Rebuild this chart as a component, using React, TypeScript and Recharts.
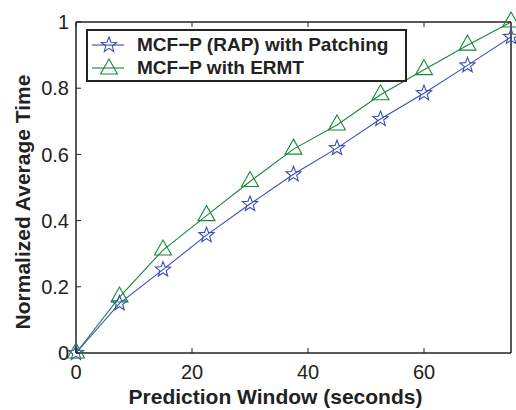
import React from 'react';
import { LineChart, Line, XAxis, YAxis } from 'recharts';

const windowSec = [0, 7.5, 15, 22.5, 30, 37.5, 45, 52.5, 60, 67.5, 75];
const rapPatching = [0, 0.15, 0.252, 0.356, 0.45, 0.54, 0.619, 0.707, 0.785, 0.869, 0.955];
const ermt = [0, 0.169, 0.311, 0.415, 0.518, 0.616, 0.689, 0.78, 0.856, 0.93, 1.0];
const xTicks = [0, 20, 40, 60];
const yTicks = [0, 0.2, 0.4, 0.6, 0.8, 1];
const yTickLabels = ['0', '0.2', '0.4', '0.6', '0.8', '1'];
const seriesNames = ['MCF\u2212P (RAP) with Patching', 'MCF\u2212P with ERMT'];
const xTitle = 'Prediction Window (seconds)';
const yTitle = 'Normalized Average Time';

const BLUE = '#3a4db5';
const GREEN = '#16883a';
const AXIS = '#222';
const FONT = '"Liberation Sans", Arial, Helvetica, sans-serif';

const data = windowSec.map((x, i) => ({ x, rap: rapPatching[i], ermt: ermt[i] }));

function starPath(cx: number, cy: number, R: number, r: number) {
  const pts: string[] = [];
  for (let i = 0; i < 10; i++) {
    const rad = i % 2 === 0 ? R : r;
    const a = -Math.PI / 2 + (i * Math.PI) / 5;
    pts.push(`${(cx + rad * Math.cos(a)).toFixed(2)},${(cy + rad * Math.sin(a)).toFixed(2)}`);
  }
  return 'M' + pts.join('L') + 'Z';
}

function triPath(cx: number, cy: number) {
  return `M${cx},${cy - 10}L${cx + 8.5},${cy + 5}L${cx - 8.5},${cy + 5}Z`;
}

const StarDot = (p: any) => {
  if (p.cx == null || p.cy == null) return <g key={p.index} />;
  return <path key={`s${p.index}`} d={starPath(p.cx, p.cy, 8, 3.4)} fill="none" stroke={BLUE} strokeWidth={1.1} />;
};
const TriDot = (p: any) => {
  if (p.cx == null || p.cy == null) return <g key={p.index} />;
  return <path key={`t${p.index}`} d={triPath(p.cx, p.cy)} fill="none" stroke={GREEN} strokeWidth={1.1} />;
};

export default function App() {
  return (
    <div style={{ position: 'absolute', left: 0, top: 0, width: 516, height: 410, background: '#fff', fontFamily: FONT }}>
      <LineChart
        width={516}
        height={410}
        data={data}
        margin={{ top: 21, right: 4, left: 0, bottom: 0 }}
      >
        <XAxis
          dataKey="x"
          type="number"
          domain={[0, 75]}
          ticks={xTicks}
          interval={0}
          height={57}
          tickSize={-5}
          tickMargin={17}
          axisLine={{ stroke: AXIS, strokeWidth: 1.5 }}
          tickLine={{ stroke: AXIS }}
          tick={{ fill: AXIS, fontSize: 20, fontFamily: FONT }}
        />
        <XAxis
          xAxisId="top"
          orientation="top"
          dataKey="x"
          type="number"
          domain={[0, 75]}
          ticks={xTicks}
          interval={0}
          height={1}
          tickSize={-5}
          tickFormatter={() => ''}
          axisLine={{ stroke: AXIS, strokeWidth: 1.5 }}
          tickLine={{ stroke: AXIS }}
        />
        <YAxis
          type="number"
          domain={[0, 1]}
          ticks={yTicks}
          interval={0}
          width={76}
          tickSize={-5}
          tickMargin={12}
          tickFormatter={(v: number) => yTickLabels[yTicks.indexOf(v)] ?? String(v)}
          axisLine={{ stroke: AXIS, strokeWidth: 1.5 }}
          tickLine={{ stroke: AXIS }}
          tick={{ fill: AXIS, fontSize: 20, fontFamily: FONT }}
        />
        <YAxis
          yAxisId="right"
          orientation="right"
          type="number"
          domain={[0, 1]}
          ticks={yTicks}
          interval={0}
          width={1}
          tickSize={-5}
          tickFormatter={() => ''}
          axisLine={{ stroke: AXIS, strokeWidth: 1.5 }}
          tickLine={{ stroke: AXIS }}
        />
        <Line
          dataKey="rap"
          name={seriesNames[0]}
          stroke={BLUE}
          strokeWidth={1.1}
          dot={StarDot}
          activeDot={false}
          isAnimationActive={false}
        />
        <Line
          dataKey="ermt"
          name={seriesNames[1]}
          stroke={GREEN}
          strokeWidth={1.1}
          dot={TriDot}
          activeDot={false}
          isAnimationActive={false}
        />
      </LineChart>

      {/* Legend */}
      <div
        style={{
          position: 'absolute',
          left: 86,
          top: 29,
          width: 317,
          height: 49,
          border: `2px solid ${AXIS}`,
          background: '#fff',
        }}
      >
        {[0, 1].map((i) => (
          <div key={i} style={{ position: 'absolute', left: 0, top: i === 0 ? 3 : 26, height: 22, width: 317 }}>
            <svg width={40} height={22} style={{ position: 'absolute', left: 2, top: 0 }}>
              <line x1={2} x2={34} y1={11} y2={11} stroke={i === 0 ? BLUE : GREEN} strokeWidth={1.1} />
              {i === 0 ? (
                <path d={starPath(19, 11, 8, 3.4)} fill="none" stroke={BLUE} strokeWidth={1.1} />
              ) : (
                <path d={triPath(19, 12)} fill="none" stroke={GREEN} strokeWidth={1.1} />
              )}
            </svg>
            <span
              style={{
                position: 'absolute',
                left: 49,
                top: 0,
                lineHeight: '22px',
                fontSize: 19,
                fontWeight: 'bold',
                color: AXIS,
                whiteSpace: 'nowrap',
              }}
            >
              {seriesNames[i]}
            </span>
          </div>
        ))}
      </div>

      {/* X title */}
      <div
        style={{
          position: 'absolute',
          left: 0,
          width: 551,
          top: 385,
          textAlign: 'center',
          fontSize: 21,
          fontWeight: 'bold',
          color: AXIS,
          lineHeight: '24px',
          whiteSpace: 'nowrap',
        }}
      >
        {xTitle}
      </div>

      {/* Y title */}
      <div
        style={{
          position: 'absolute',
          left: 23,
          top: 202,
          width: 0,
          height: 0,
        }}
      >
        <div
          style={{
            position: 'absolute',
            left: -200,
            top: -12,
            width: 400,
            textAlign: 'center',
            transform: 'rotate(-90deg)',
            fontSize: 21,
            fontWeight: 'bold',
            color: AXIS,
            lineHeight: '24px',
            whiteSpace: 'nowrap',
          }}
        >
          {yTitle}
        </div>
      </div>
    </div>
  );
}
